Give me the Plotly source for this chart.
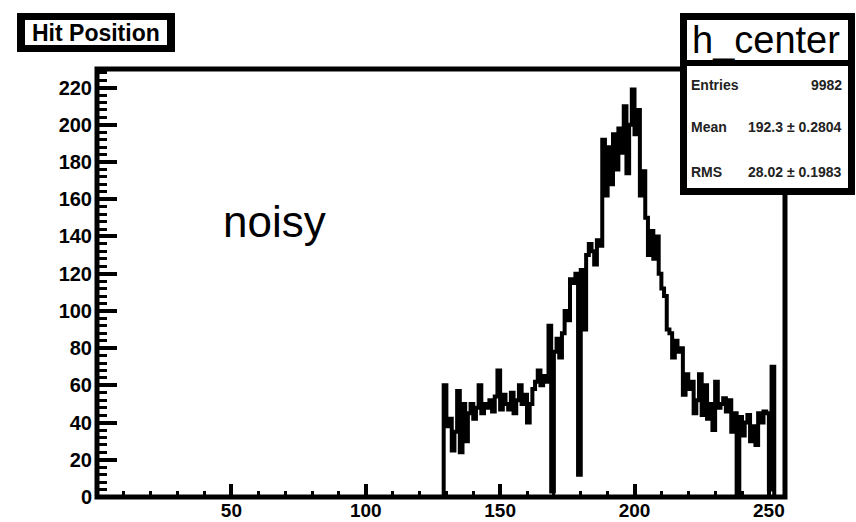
import numpy as np
import plotly.graph_objects as go

# ---- histogram h_center: 256 unit bins on [0, 256] ----
n_bins = 256
x_min, x_max = 0, 256
first_bin = 129
counts = [
    60, 38, 42, 25, 35, 57, 24, 50, 30, 45,      # 129-138
    50, 42, 48, 60, 45, 50, 48, 52, 46, 54,      # 139-148
    68, 47, 55, 50, 47, 56, 45, 52, 60, 50,      # 149-158
    55, 40, 50, 58, 62, 68, 60, 65, 62, 92,      # 159-168
    3, 78, 85, 75, 88, 100, 95, 117, 115, 120,   # 169-178
    12, 122, 90, 130, 136, 132, 125, 138, 135,   # 179-187
    192, 162, 188, 168, 195, 176, 198, 185, 210, 174,  # 188-197
    200, 219, 195, 208, 162, 175, 150, 130, 143, 128,  # 198-207
    140, 120, 112, 108, 90, 88, 75, 84, 78, 80,  # 208-217
    55, 66, 58, 62, 45, 52, 66, 44, 60, 42,      # 218-227
    50, 36, 62, 48, 50, 53, 46, 52, 35, 45,      # 228-237
    1, 43, 33, 40, 44, 30, 38, 28, 45, 40,       # 238-247
    46, 45, 4, 70,                               # 248-251
]

hist_title = "Hit Position"
hist_name = "h_center"
stat_labels = ["Entries", "Mean", "RMS"]
stat_values = ["9982", "192.3 \u00b1 0.2804", "28.02 \u00b1 0.1983"]
note_text = "noisy"

y_max = 230
x_ticks = [50, 100, 150, 200, 250]
y_ticks = list(range(0, 221, 20))

# ---- build the step outline ----
hist = np.zeros(n_bins)
hist[first_bin:first_bin + len(counts)] = counts
edges = np.linspace(x_min, x_max, n_bins + 1)
y_step = np.append(hist, hist[-1])

W, H = 856, 522
L, R, T, B = 97, 71, 69, 25
pw, ph = W - L - R, H - T - B


def px(x):
    return (x - L) / pw


def py(y):
    return (H - B - y) / ph


FONT = "Liberation Sans, Arial, sans-serif"

fig = go.Figure()
fig.add_trace(go.Scatter(
    x=edges, y=y_step, mode="lines",
    line=dict(shape="hv", color="black", width=4),
    hoverinfo="skip", showlegend=False,
))

fig.update_xaxes(
    range=[x_min, x_max], showgrid=False, zeroline=False, showline=False,
    automargin=False,
    tickmode="array", tickvals=x_ticks, ticktext=[str(v) for v in x_ticks],
    ticks="inside", ticklen=13, tickwidth=4, tickcolor="black",
    minor=dict(ticks="inside", dtick=10, tick0=0, ticklen=6, tickwidth=3, tickcolor="black", showgrid=False),
    tickfont=dict(family=FONT, size=19, color="black", weight="bold"), ticklabelstandoff=0,
)
fig.update_yaxes(
    range=[0, y_max], showgrid=False, zeroline=False, showline=False,
    automargin=False,
    tickmode="array", tickvals=y_ticks, ticktext=[str(v) for v in y_ticks],
    ticks="inside", ticklen=20, tickwidth=4, tickcolor="black",
    minor=dict(ticks="inside", dtick=4, tick0=0, ticklen=10, tickwidth=3, tickcolor="black", showgrid=False),
    tickfont=dict(family=FONT, size=20, color="black", weight="bold"), ticklabelstandoff=4,
)

shapes = [
    # plot frame
    dict(type="rect", xref="paper", yref="paper", x0=0, x1=1, y0=0, y1=1,
         line=dict(color="black", width=5), fillcolor="rgba(0,0,0,0)", layer="above"),
    # title pave
    dict(type="rect", xref="paper", yref="paper", x0=px(17), x1=px(175), y0=py(52), y1=py(13),
         line=dict(width=0), fillcolor="black", layer="above"),
    dict(type="rect", xref="paper", yref="paper", x0=px(25), x1=px(167), y0=py(45), y1=py(20),
         line=dict(width=0), fillcolor="white", layer="above"),
    # statistics box
    dict(type="rect", xref="paper", yref="paper", x0=px(680), x1=px(855), y0=py(195), y1=py(13),
         line=dict(width=0), fillcolor="black", layer="above"),
    dict(type="rect", xref="paper", yref="paper", x0=px(687), x1=px(848), y0=py(60), y1=py(20),
         line=dict(width=0), fillcolor="white", layer="above"),
    dict(type="rect", xref="paper", yref="paper", x0=px(687), x1=px(848), y0=py(188), y1=py(66),
         line=dict(width=0), fillcolor="white", layer="above"),
]

annotations = [
    dict(text=hist_title, xref="paper", yref="paper", x=px(96), y=py(33),
         xanchor="center", yanchor="middle", showarrow=False,
         font=dict(family=FONT, size=23, color="black", weight="bold")),
    dict(text=hist_name, xref="paper", yref="paper", x=px(766), y=py(40),
         xanchor="center", yanchor="middle", showarrow=False,
         font=dict(family=FONT, size=38, color="black")),
    dict(text=note_text, xref="paper", yref="paper", x=px(274), y=py(222),
         xanchor="center", yanchor="middle", showarrow=False,
         font=dict(family=FONT, size=44, color="black")),
]
for lab, val, yy in zip(stat_labels, stat_values, [85, 127, 172]):
    annotations.append(dict(text=lab, xref="paper", yref="paper", x=px(689), y=py(yy),
                            xanchor="left", yanchor="middle", showarrow=False,
                            font=dict(family=FONT, size=14, color="#222", weight="bold")))
    annotations.append(dict(text=val, xref="paper", yref="paper", x=px(844), y=py(yy),
                            xanchor="right", yanchor="middle", showarrow=False,
                            font=dict(family=FONT, size=14, color="#222", weight="bold")))

fig.update_layout(
    width=W, height=H,
    margin=dict(l=L, r=R, t=T, b=B, pad=0, autoexpand=False),
    paper_bgcolor="white", plot_bgcolor="white",
    shapes=shapes, annotations=annotations,
    showlegend=False,
)

fig.write_html("out.html")
